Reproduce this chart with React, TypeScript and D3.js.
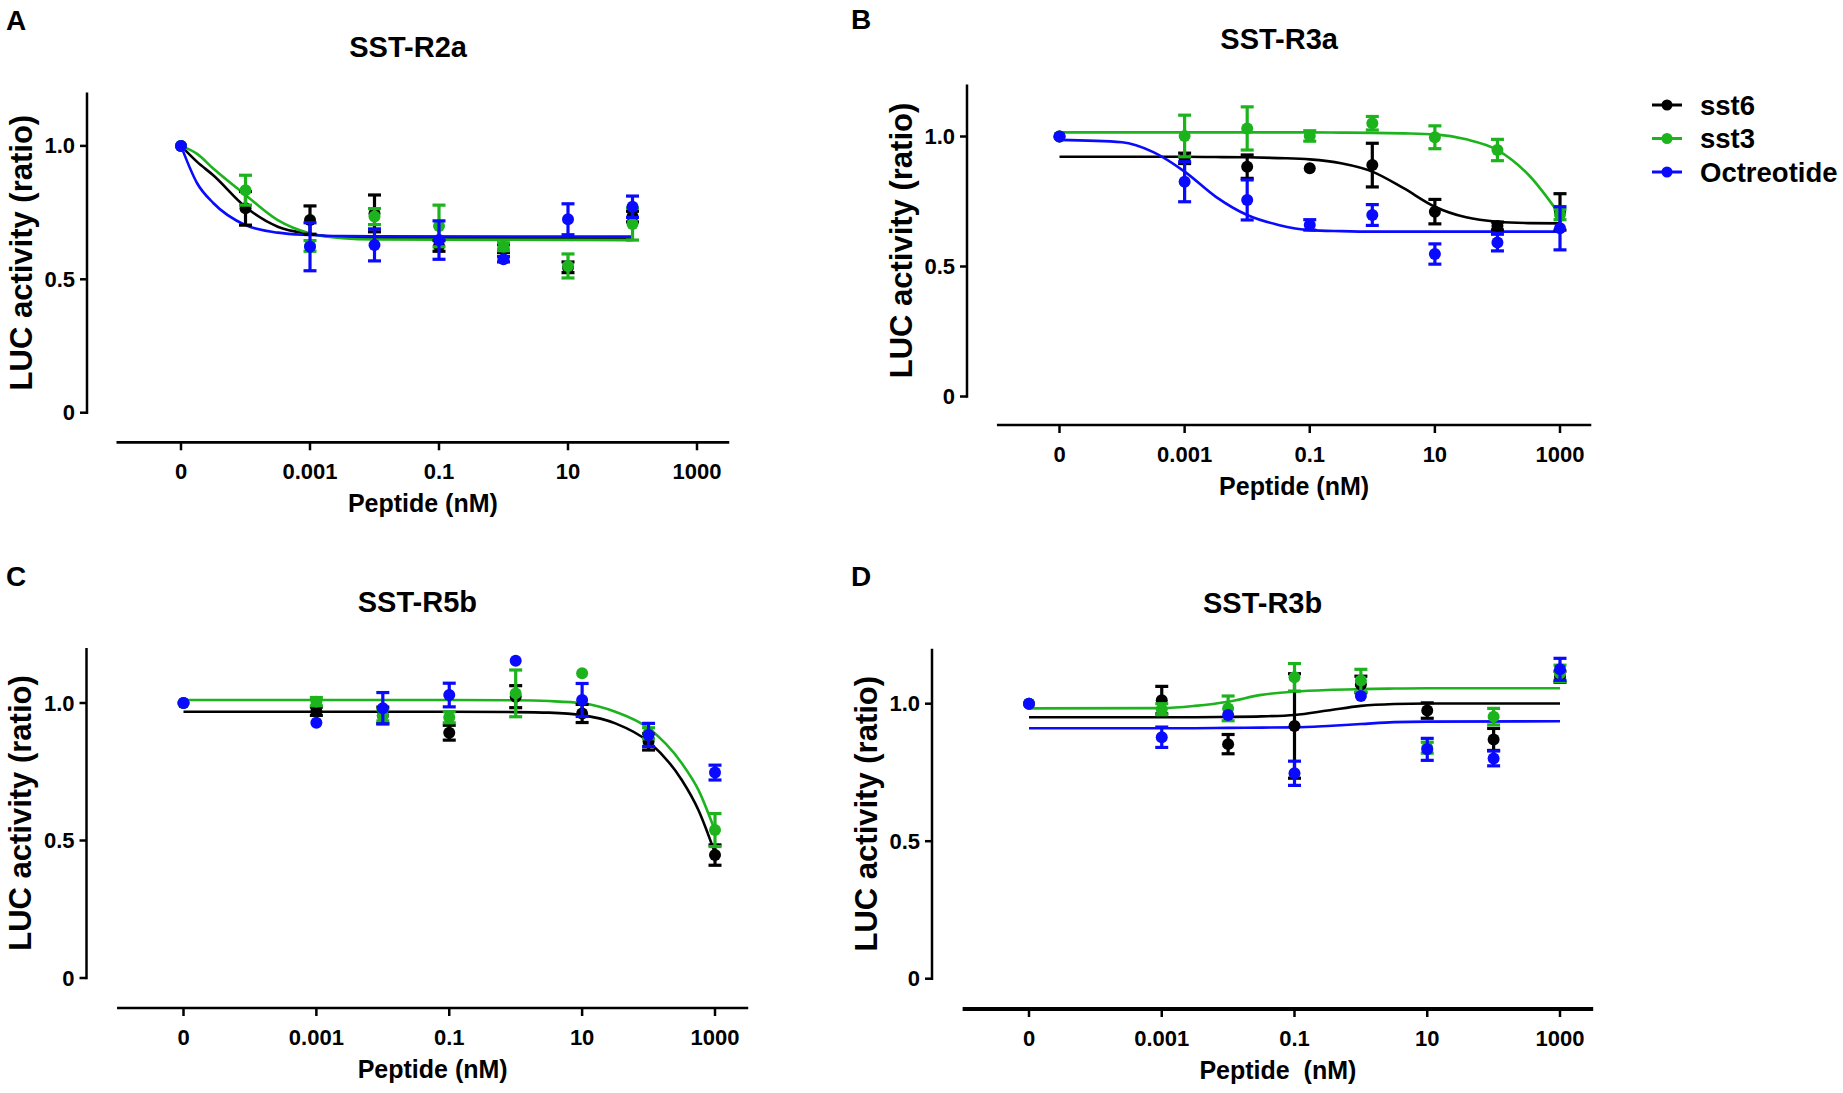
import React from 'react';
import * as d3 from 'd3';

const SERIES = ['sst6', 'sst3', 'Octreotide'];
const COLORS = ['#000000', '#1db31d', '#0a0aff'];

const X_TICKS = [1e-5, 1e-3, 1e-1, 10, 1000];
const X_TICK_LABELS = ['0', '0.001', '0.1', '10', '1000'];
const Y_TICKS = [0, 0.5, 1.0];
const Y_TICK_LABELS = ['0', '0.5', '1.0'];

// doses in nM, the 0 dose sits at 1e-5 on the log axis
const DOSES_A = [0, 0.0001, 0.001, 0.01, 0.1, 1, 10, 100];
const DOSES_BCD = [0, 0.001, 0.01, 0.1, 1, 10, 100, 1000];

// SST-R2a
const A_SST6 = [1.0, 0.766, 0.722, 0.747, 0.625, 0.615, 0.545, 0.735];
const A_SST6_SEM = [0, 0.063, 0.053, 0.069, 0.02, 0.015, 0.02, 0.02];
const A_SST3 = [1.0, 0.834, 0.625, 0.735, 0.7, 0.622, 0.55, 0.707];
const A_SST3_SEM = [0, 0.056, 0.02, 0.03, 0.078, 0.015, 0.045, 0.06];
const A_OCT = [1.0, NaN, 0.622, 0.629, 0.647, 0.575, 0.725, 0.772];
const A_OCT_SEM = [0, 0, 0.09, 0.06, 0.072, 0.01, 0.058, 0.04];

// SST-R3a
const B_SST6 = [1.0, 0.916, 0.884, 0.878, 0.89, 0.711, 0.656, 0.71];
const B_SST6_SEM = [0, 0.02, 0.045, 0, 0.084, 0.047, 0.015, 0.07];
const B_SST3 = [1.0, 1.002, 1.031, 1.002, 1.051, 0.997, 0.948, 0.7];
const B_SST3_SEM = [0, 0.08, 0.083, 0.02, 0.026, 0.044, 0.041, 0.02];
const B_OCT = [1.0, 0.826, 0.756, 0.66, 0.698, 0.548, 0.592, 0.647];
const B_OCT_SEM = [0, 0.077, 0.077, 0.02, 0.04, 0.039, 0.032, 0.083];

// SST-R5b
const C_SST6 = [1.0, 0.97, 0.955, 0.892, 1.023, 0.962, 0.859, 0.447];
const C_SST6_SEM = [0, 0.015, 0.03, 0.027, 0.04, 0.033, 0.03, 0.037];
const C_SST3 = [1.0, 1.005, 0.955, 0.948, 1.035, 1.108, 0.89, 0.538];
const C_SST3_SEM = [0, 0.015, 0.02, 0.02, 0.085, 0, 0.02, 0.06];
const C_OCT = [1.0, 0.928, 0.981, 1.029, 1.154, 1.011, 0.884, 0.747];
const C_OCT_SEM = [0, 0, 0.057, 0.043, 0, 0.06, 0.042, 0.027];

// SST-R3b
const D_SST6 = [1.0, 1.013, 0.853, 0.919, 1.07, 0.975, 0.87, 1.098];
const D_SST6_SEM = [0, 0.05, 0.035, 0.19, 0.03, 0.028, 0.04, 0.02];
const D_SST3 = [1.0, 0.98, 0.983, 1.096, 1.084, 0.84, 0.953, 1.11];
const D_SST3_SEM = [0, 0.02, 0.045, 0.05, 0.041, 0.02, 0.03, 0.03];
const D_OCT = [1.0, 0.878, 0.959, 0.747, 1.028, 0.834, 0.801, 1.125];
const D_OCT_SEM = [0, 0.037, 0, 0.044, 0, 0.04, 0.027, 0.04];

// fitted curves at log10(dose) knots
const A_KNOTS = [-5, -4.75, -4.5, -4, -3.5, -3, -2.5, -2, 2];
const A_FIT_SST6 = [1.0, 0.94, 0.89, 0.771, 0.697, 0.67, 0.658, 0.655, 0.654];
const A_FIT_SST3 = [1.0, 0.97, 0.915, 0.816, 0.722, 0.672, 0.654, 0.649, 0.647];
const A_FIT_OCT = [1.0, 0.86, 0.786, 0.703, 0.675, 0.666, 0.662, 0.661, 0.66];

const B_KNOTS = [-5, -4, -3.5, -3, -2.5, -2, -1.5, -1, -0.5, 0, 0.5, 1, 1.5, 2, 2.5, 3];
const B_FIT_SST6 = [0.922, 0.922, 0.922, 0.922, 0.921, 0.92, 0.917, 0.912, 0.897, 0.865, 0.801, 0.73, 0.689, 0.672, 0.667, 0.666];
const B_FIT_SST3 = [1.016, 1.016, 1.016, 1.016, 1.016, 1.016, 1.016, 1.016, 1.015, 1.014, 1.012, 1.008, 0.989, 0.948, 0.852, 0.698];
const B_FIT_OCT = [0.987, 0.978, 0.94, 0.865, 0.768, 0.698, 0.66, 0.64, 0.636, 0.634, 0.634, 0.634, 0.634, 0.634, 0.634, 0.634];

const C_KNOTS = [-5, -1, 0, 0.5, 1, 1.5, 2, 2.5, 2.75, 3];
const C_FIT_SST6 = [0.968, 0.968, 0.967, 0.965, 0.956, 0.926, 0.859, 0.72, 0.611, 0.454];
const C_FIT_SST3 = [1.011, 1.011, 1.01, 1.007, 0.999, 0.968, 0.908, 0.781, 0.684, 0.535];

const D_KNOTS = [-5, -3, -2.5, -2, -1.5, -1, -0.5, 0, 0.5, 1, 3];
const D_FIT_SST6 = [0.951, 0.951, 0.951, 0.952, 0.954, 0.959, 0.975, 0.992, 0.999, 1.001, 1.001];
const D_FIT_SST3 = [0.983, 0.984, 0.992, 1.007, 1.032, 1.044, 1.05, 1.053, 1.055, 1.056, 1.056];
const D_FIT_OCT = [0.911, 0.911, 0.911, 0.912, 0.913, 0.914, 0.919, 0.926, 0.933, 0.935, 0.936];

const FONT = '"Liberation Sans", Arial, Helvetica, sans-serif';

interface PanelProps {
  letter: string;
  title: string;
  xLabel: string;
  // layout
  axisX: number;
  y0: number;
  y1: number;
  axisY: number;
  x0: number;
  x1000: number;
  letterX: number;
  letterY: number;
  xAxisWidth: number;
  // data
  doses: number[];
  means: number[][];
  sems: number[][];
  knots: number[];
  fits: (number[] | null)[];
}

const Panel: React.FC<PanelProps> = (p) => {
  const x = d3.scaleLog().domain([1e-5, 1000]).range([p.x0, p.x1000]);
  const y = d3.scaleLinear().domain([0, 1]).range([p.y0, p.y1]);
  const xd = (d: number) => x(d === 0 ? 1e-5 : d);

  const xStart = x(1e-6);
  const xEnd = x(Math.pow(10, 3.5));
  const yTop = y(1.2);

  const line = d3
    .line<[number, number]>()
    .x((d) => x(Math.pow(10, d[0])))
    .y((d) => y(d[1]))
    .curve(d3.curveMonotoneX);

  return (
    <g>
      <text x={p.letterX} y={p.letterY} fontFamily={FONT} fontWeight="bold" fontSize={28} dominantBaseline="central">
        {p.letter}
      </text>
      <text
        x={(p.axisX + xEnd) / 2}
        y={yTop - 46}
        fontFamily={FONT}
        fontWeight="bold"
        fontSize={29}
        textAnchor="middle"
        dominantBaseline="central"
      >
        {p.title}
      </text>

      {/* y axis */}
      <line x1={p.axisX} x2={p.axisX} y1={y(0) + 1.2} y2={yTop} stroke="#000" strokeWidth={2.5} />
      {Y_TICKS.map((t, i) => (
        <g key={t}>
          <line x1={p.axisX - 7} x2={p.axisX} y1={y(t)} y2={y(t)} stroke="#000" strokeWidth={2.5} />
          <text
            x={p.axisX - 12}
            y={y(t)}
            fontFamily={FONT}
            fontWeight="bold"
            fontSize={22}
            textAnchor="end"
            dominantBaseline="central"
          >
            {Y_TICK_LABELS[i]}
          </text>
        </g>
      ))}
      <text
        transform={`translate(${p.axisX - 66},${(y(0) + yTop) / 2}) rotate(-90)`}
        fontFamily={FONT}
        fontWeight="bold"
        fontSize={31}
        textAnchor="middle"
        dominantBaseline="central"
      >
        LUC activity (ratio)
      </text>

      {/* x axis */}
      <line x1={xStart} x2={xEnd} y1={p.axisY} y2={p.axisY} stroke="#000" strokeWidth={p.xAxisWidth} />
      {X_TICKS.map((t, i) => (
        <g key={t}>
          <line x1={x(t)} x2={x(t)} y1={p.axisY} y2={p.axisY + 8} stroke="#000" strokeWidth={2.5} />
          <text
            x={x(t)}
            y={p.axisY + 29}
            fontFamily={FONT}
            fontWeight="bold"
            fontSize={22}
            textAnchor="middle"
            dominantBaseline="central"
          >
            {X_TICK_LABELS[i]}
          </text>
        </g>
      ))}
      <text
        x={(xStart + xEnd) / 2}
        y={p.axisY + 61}
        fontFamily={FONT}
        fontWeight="bold"
        fontSize={25}
        textAnchor="middle"
        dominantBaseline="central"
        style={{ whiteSpace: 'pre' }}
      >
        {p.xLabel}
      </text>

      {/* fitted curves */}
      {p.fits.map((f, si) =>
        f ? (
          <path
            key={`fit-${si}`}
            d={line(p.knots.map((k, i) => [k, f[i]] as [number, number])) || ''}
            fill="none"
            stroke={COLORS[si]}
            strokeWidth={2.6}
          />
        ) : null
      )}

      {/* error bars and points */}
      {p.means.map((m, si) => (
        <g key={`s-${si}`}>
          {m.map((v, i) => {
            if (isNaN(v)) return null;
            const s = p.sems[si][i];
            const cx = xd(p.doses[i]);
            return (
              <g key={i}>
                {s > 0 && (
                  <g stroke={COLORS[si]} strokeWidth={3.2}>
                    <line x1={cx} x2={cx} y1={y(v - s)} y2={y(v + s)} />
                    <line x1={cx - 6.5} x2={cx + 6.5} y1={y(v - s)} y2={y(v - s)} />
                    <line x1={cx - 6.5} x2={cx + 6.5} y1={y(v + s)} y2={y(v + s)} />
                  </g>
                )}
                <circle cx={cx} cy={y(v)} r={6} fill={COLORS[si]} />
              </g>
            );
          })}
        </g>
      ))}
    </g>
  );
};

const LEGEND_X = 1652;
const LEGEND_Y = 105;

const App: React.FC = () => {
  const legendRow = d3.scaleLinear().domain([0, 1]).range([LEGEND_Y, LEGEND_Y + 33.5]);
  return (
    <div style={{ position: 'absolute', left: 0, top: 0 }}>
      <svg width={1843} height={1093} style={{ display: 'block', background: '#fff' }}>
        <Panel
          letter="A"
          title="SST-R2a"
          xLabel="Peptide (nM)"
          axisX={87}
          y0={412.7}
          y1={145.9}
          axisY={442.3}
          x0={181}
          x1000={697}
          letterX={6}
          letterY={20}
          xAxisWidth={2.7}
          doses={DOSES_A}
          means={[A_SST6, A_SST3, A_OCT]}
          sems={[A_SST6_SEM, A_SST3_SEM, A_OCT_SEM]}
          knots={A_KNOTS}
          fits={[A_FIT_SST6, A_FIT_SST3, A_FIT_OCT]}
        />
        <Panel
          letter="B"
          title="SST-R3a"
          xLabel="Peptide (nM)"
          axisX={967}
          y0={396.5}
          y1={136.5}
          axisY={425}
          x0={1059.5}
          x1000={1560}
          letterX={851}
          letterY={19}
          xAxisWidth={2.7}
          doses={DOSES_BCD}
          means={[B_SST6, B_SST3, B_OCT]}
          sems={[B_SST6_SEM, B_SST3_SEM, B_OCT_SEM]}
          knots={B_KNOTS}
          fits={[B_FIT_SST6, B_FIT_SST3, B_FIT_OCT]}
        />
        <Panel
          letter="C"
          title="SST-R5b"
          xLabel="Peptide (nM)"
          axisX={86.5}
          y0={978}
          y1={703}
          axisY={1008}
          x0={183.5}
          x1000={715}
          letterX={6}
          letterY={576}
          xAxisWidth={2.7}
          doses={DOSES_BCD}
          means={[C_SST6, C_SST3, C_OCT]}
          sems={[C_SST6_SEM, C_SST3_SEM, C_OCT_SEM]}
          knots={C_KNOTS}
          fits={[C_FIT_SST6, C_FIT_SST3, null]}
        />
        <Panel
          letter="D"
          title="SST-R3b"
          xLabel="Peptide  (nM)"
          axisX={932}
          y0={978.7}
          y1={703.7}
          axisY={1009}
          x0={1029}
          x1000={1560}
          letterX={851}
          letterY={576}
          xAxisWidth={4}
          doses={DOSES_BCD}
          means={[D_SST6, D_SST3, D_OCT]}
          sems={[D_SST6_SEM, D_SST3_SEM, D_OCT_SEM]}
          knots={D_KNOTS}
          fits={[D_FIT_SST6, D_FIT_SST3, D_FIT_OCT]}
        />

        {/* legend */}
        {SERIES.map((name, i) => (
          <g key={name}>
            <line
              x1={LEGEND_X}
              x2={LEGEND_X + 30}
              y1={legendRow(i)}
              y2={legendRow(i)}
              stroke={COLORS[i]}
              strokeWidth={3}
            />
            <circle cx={LEGEND_X + 15} cy={legendRow(i)} r={5.5} fill={COLORS[i]} />
            <text
              x={LEGEND_X + 48}
              y={legendRow(i)}
              fontFamily={FONT}
              fontWeight="bold"
              fontSize={27.5}
              dominantBaseline="central"
            >
              {name}
            </text>
          </g>
        ))}
      </svg>
    </div>
  );
};

export default App;
